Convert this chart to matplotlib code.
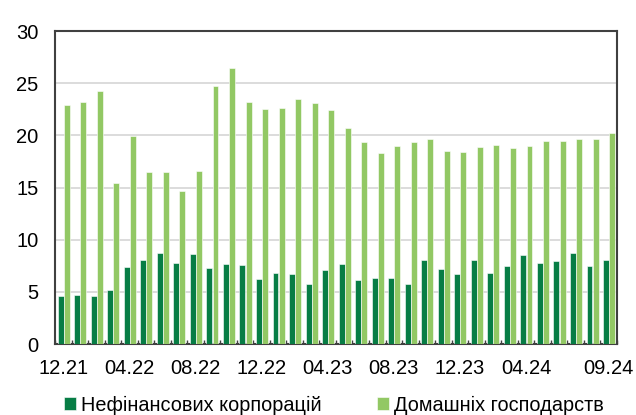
import matplotlib.pyplot as plt
import numpy as np

plt.rcParams['font.family'] = ['Liberation Sans', 'DejaVu Sans']

# monthly values, 12.21 .. 09.24
months = ['12.21', '01.22', '02.22', '03.22', '04.22', '05.22', '06.22', '07.22',
          '08.22', '09.22', '10.22', '11.22', '12.22', '01.23', '02.23', '03.23',
          '04.23', '05.23', '06.23', '07.23', '08.23', '09.23', '10.23', '11.23',
          '12.23', '01.24', '02.24', '03.24', '04.24', '05.24', '06.24', '07.24',
          '08.24', '09.24']
corporations = [4.6, 4.7, 4.6, 5.2, 7.4, 8.1, 8.7, 7.8, 8.6, 7.3, 7.7, 7.6,
                6.2, 6.8, 6.7, 5.8, 7.1, 7.7, 6.1, 6.3, 6.3, 5.8, 8.1, 7.2,
                6.7, 8.1, 6.8, 7.5, 8.5, 7.8, 8.0, 8.7, 7.5, 8.1]
households = [22.9, 23.2, 24.3, 15.4, 19.9, 16.5, 16.5, 14.7, 16.6, 24.7, 26.5, 23.2,
              22.5, 22.6, 23.5, 23.1, 22.4, 20.7, 19.4, 18.3, 19.0, 19.4, 19.7, 18.5,
              18.4, 18.9, 19.1, 18.8, 19.0, 19.5, 19.5, 19.7, 19.7, 20.2]
shown_labels = ['12.21', '04.22', '08.22', '12.22', '04.23', '08.23', '12.23', '04.24', '09.24']

dark = '#077D45'
light = '#92C864'

fig = plt.figure(figsize=(6.36, 4.15), dpi=100)
ax = fig.add_axes([0.0865, 0.171, 0.8835, 0.754])

x = np.arange(len(months))
w = 0.36
ax.bar(x - 0.16, corporations, w, color=dark, edgecolor='white', linewidth=0.4,
       label='Нефінансових корпорацій', zorder=3)
ax.bar(x + 0.21, households, w, color=light, edgecolor='white', linewidth=0.4,
       label='Домашніх господарств', zorder=3)

ax.set_xlim(-0.5, len(months) - 0.5)
ax.set_ylim(0, 30)
ax.set_yticks(range(0, 31, 5))
ax.yaxis.grid(True, color='#D9D9D9', linewidth=1.3, zorder=0)
ax.tick_params(axis='y', length=0, labelsize=14.5, pad=12)

ticks = [months.index(m) for m in shown_labels]
ax.set_xticks(ticks)
ax.set_xticklabels(shown_labels)
ax.set_xticks(np.arange(-0.5, len(months), 1), minor=True)
ax.tick_params(axis='x', which='major', length=0, labelsize=14.5, pad=11)
ax.tick_params(axis='x', which='minor', direction='in', length=3, width=1, color='#404040')

for s in ax.spines.values():
    s.set_color('#404040')
    s.set_linewidth(1.5)

fig.legend(*ax.get_legend_handles_labels(), loc='center', bbox_to_anchor=(0.525, 0.024),
           ncol=2, frameon=False, fontsize=14.3, handlelength=0.6, handleheight=0.6,
           handletextpad=0.25, columnspacing=2.8, borderpad=0)

fig.savefig('out.png', dpi=100)
